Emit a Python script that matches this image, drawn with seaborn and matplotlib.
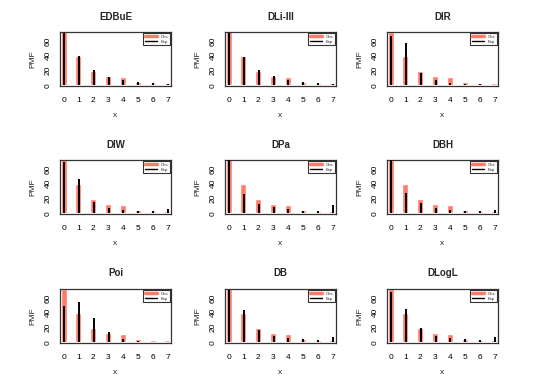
import matplotlib
matplotlib.use("Agg")
import matplotlib.pyplot as plt
import numpy as np
import pandas as pd
import seaborn as sns
from matplotlib.lines import Line2D

x_vals = [0, 1, 2, 3, 4, 5, 6, 7]
observed = [72, 39.5, 19.5, 12, 10.5, 5, 3.6, 3.2]

panel_names = ["EDBuE", "DLi-III", "DIR", "DIW", "DPa", "DBH", "Poi", "DB", "DLogL"]
exp_edbue = [70, 39.5, 20, 11, 7, 5, 3, 2]
exp_dli = [70, 38.5, 21, 12, 7, 4, 2.5, 1.5]
exp_dir = [66, 57, 16, 7, 3, 2, 1.5, 1]
exp_diw = [69, 46, 15, 7.5, 4.5, 3.5, 2.5, 6]
exp_dpa = [72, 26, 13, 8, 5.5, 3.5, 2.5, 11]
exp_dbh = [72, 28, 14, 7.5, 5, 3.5, 2.5, 4.5]
exp_poi = [49, 55, 32.5, 13.5, 4.5, 1.5, 0.5, 0.2]
exp_db = [70, 44, 17, 9, 5.5, 4, 3, 6.5]
exp_dlogl = [68, 45.5, 19, 9, 6, 4, 3, 6.5]
expected = [exp_edbue, exp_dli, exp_dir, exp_diw, exp_dpa, exp_dbh, exp_poi, exp_db, exp_dlogl]

OBS_COLOR = "#FF7A6B"

sns.set_style("white")
plt.rcParams["font.family"] = ["Liberation Sans", "DejaVu Sans"]

W, H = 548, 383
fig = plt.figure(figsize=(W / 100, H / 100), dpi=100)

col_left = [60, 225, 387]
row_top = [32, 160, 289]
ax_w, ax_h = 111, 54

obs_df = pd.DataFrame({"x": x_vals, "obs": observed})

for i, (name, exp) in enumerate(zip(panel_names, expected)):
    r, c = divmod(i, 3)
    left = col_left[c] / W
    bottom = 1 - (row_top[r] + ax_h) / H
    ax = fig.add_axes([left, bottom, ax_w / W, ax_h / H])

    sns.barplot(data=obs_df, x="x", y="obs", color=OBS_COLOR, width=0.4,
                saturation=1, ax=ax, zorder=2)
    ax.vlines(np.array(x_vals) + 0.03, 0, exp, color="black", lw=1.4, zorder=3)

    ax.set_xlim(-0.24, 7.24)
    ax.set_ylim(-1, 72)
    ax.set_xticks(x_vals)
    ax.set_xticklabels([str(v) for v in x_vals])
    ax.set_yticks(range(0, 71, 10))
    ax.set_yticklabels(["0", "", "20", "", "40", "", "60", ""], rotation=90, va="center")
    ax.tick_params(axis="both", length=3, width=0.8, labelsize=6, pad=5,
                   direction="out", colors="black")
    ax.tick_params(axis="y", pad=3)
    for s in ax.spines.values():
        s.set_color("#333333")
        s.set_linewidth(0.9)
    ax.set_title(name, fontsize=7, fontweight="bold", pad=9)
    ax.set_xlabel("x", fontsize=6, labelpad=6)
    ax.set_ylabel("PMF", fontsize=6, labelpad=6)

    handles = [Line2D([0], [0], color=OBS_COLOR, lw=2.5),
               Line2D([0], [0], color="black", lw=1)]
    leg = ax.legend(handles, ["Obs", "Exp"], loc="upper right", fontsize=3,
                    frameon=True, fancybox=False, borderpad=0.4, handlelength=3,
                    labelspacing=0.2, borderaxespad=0.3)
    leg.get_frame().set_edgecolor("black")
    leg.get_frame().set_linewidth(0.8)

fig.savefig("out.png", dpi=100)
